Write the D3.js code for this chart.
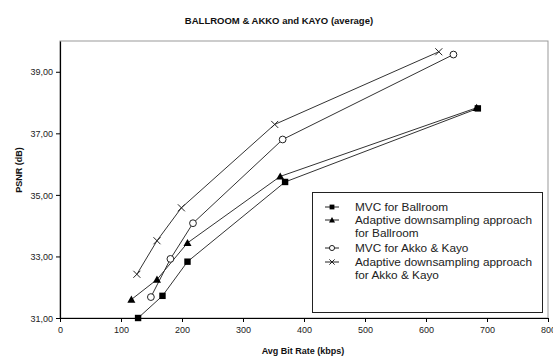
<!DOCTYPE html>
<html><head><meta charset="utf-8">
<script src="https://cdn.jsdelivr.net/npm/d3@7"></script>
<style>body{margin:0;background:#fff}svg{display:block}text{font-family:"Liberation Sans",Arial,sans-serif}</style>
</head><body><svg id="c" width="553" height="358"></svg>
<script>
const title = "BALLROOM & AKKO and KAYO (average)";
const xTicks = [0,100,200,300,400,500,600,700,800];
const yTicks = [31,33,35,37,39];
const seriesNames = ["MVC for Ballroom", "Adaptive downsampling approach|for Ballroom", "MVC for Akko & Kayo", "Adaptive downsampling approach|for Akko & Kayo"];
const mvcBallroomX = [128,168,209,369,685];
const mvcBallroomY = [31.0,31.72,32.83,35.42,37.81];
const adaBallroomX = [117,159,209,361,683];
const adaBallroomY = [31.6,32.25,33.44,35.6,37.83];
const mvcAkkoX = [149,181,218,365,645];
const mvcAkkoY = [31.68,32.92,34.08,36.8,39.56];
const adaAkkoX = [126,159,199,352,621];
const adaAkkoY = [32.42,33.51,34.58,37.29,39.65];
const markers = ["square","triangle","circle","cross"];

const svg = d3.select("#c");
const L=60,R=548,T=41,B=318;
const x = d3.scaleLinear().domain([0,800]).range([L,R]);
const y = d3.scaleLinear().domain([31,40]).range([B,T]);

svg.append("text").attr("x",279).attr("y",24).attr("text-anchor","middle")
  .attr("font-size",9.5).attr("font-weight","bold").attr("fill","#111").text(title);

svg.append("rect").attr("x",L).attr("y",T).attr("width",R-L).attr("height",B-T)
  .attr("fill","none").attr("stroke","#999").attr("stroke-width",1);

const fmt = d => d3.format(".2f")(d).replace(".",",");
const gx = svg.append("g").attr("transform",`translate(0,${B})`)
  .call(d3.axisBottom(x).tickValues(xTicks).tickSize(4).tickSizeOuter(0).tickFormat(d3.format("d")));
const gy = svg.append("g").attr("transform",`translate(${L},0)`)
  .call(d3.axisLeft(y).tickValues(yTicks).tickSize(4).tickSizeOuter(0).tickFormat(fmt));
[gx,gy].forEach(g=>{
  g.select(".domain").attr("stroke","#000").attr("stroke-width",1.2);
  g.selectAll(".tick line").attr("stroke","#000");
  g.selectAll(".tick text").attr("font-size",9).attr("fill","#222").attr("font-family","Liberation Sans, Arial, sans-serif");
});
gx.selectAll(".tick text").attr("dy","0.9em");
gy.selectAll(".tick text").attr("dy","0.35em").attr("x",-7);

svg.append("text").attr("x",303).attr("y",354).attr("text-anchor","middle")
  .attr("font-size",9).attr("font-weight","bold").attr("fill","#111").text("Avg Bit Rate (kbps)");
svg.append("text").attr("transform","translate(22,170) rotate(-90)").attr("text-anchor","middle")
  .attr("font-size",9).attr("font-weight","bold").attr("fill","#111").text("PSNR (dB)");

const data = [
  {xs:mvcBallroomX, ys:mvcBallroomY},
  {xs:adaBallroomX, ys:adaBallroomY},
  {xs:mvcAkkoX, ys:mvcAkkoY},
  {xs:adaAkkoX, ys:adaAkkoY}
];
const line = d3.line().x(d=>x(d[0])).y(d=>y(d[1]));

function drawMarker(g, type, cx, cy, s){
  s = s||1;
  if(type==="square") g.append("rect").attr("x",cx-3.2*s).attr("y",cy-3.2*s).attr("width",6.4*s).attr("height",6.4*s).attr("fill","#000");
  else if(type==="triangle") g.append("path").attr("d",`M${cx},${cy-4*s}L${cx+4*s},${cy+3.2*s}L${cx-4*s},${cy+3.2*s}Z`).attr("fill","#000");
  else if(type==="circle") g.append("circle").attr("cx",cx).attr("cy",cy).attr("r",3.4*s).attr("fill","#fff").attr("stroke","#222").attr("stroke-width",1);
  else if(type==="cross") g.append("path").attr("d",`M${cx-3.5*s},${cy-3.5*s}L${cx+3.5*s},${cy+3.5*s}M${cx+3.5*s},${cy-3.5*s}L${cx-3.5*s},${cy+3.5*s}`).attr("stroke","#222").attr("stroke-width",1);
}

data.forEach((s,i)=>{
  const pts = s.xs.map((v,j)=>[v,s.ys[j]]);
  svg.append("path").datum(pts).attr("d",line).attr("fill","none").attr("stroke","#333").attr("stroke-width",1);
});
[1,0,2,3].forEach(i=>{
  const s=data[i];
  const g=svg.append("g");
  s.xs.forEach((v,j)=>drawMarker(g,markers[i],x(v),y(s.ys[j])));
});

const lg = svg.append("g");
lg.append("rect").attr("x",312.5).attr("y",192.5).attr("width",230).attr("height",120)
  .attr("fill","#fff").attr("stroke","#222").attr("stroke-width",1);
const rowsY = [207,220,248,262];
seriesNames.forEach((n,i)=>{
  const yy = rowsY[i];
  lg.append("line").attr("x1",325).attr("x2",339).attr("y1",yy).attr("y2",yy).attr("stroke","#222");
  drawMarker(lg, markers[i], 332, yy, 0.75);
  n.split("|").forEach((t,k)=>{
    lg.append("text").attr("x",355).attr("y",yy+4+k*12.5).attr("font-size",11.8).attr("fill","#222").text(t);
  });
});
</script></body></html>
